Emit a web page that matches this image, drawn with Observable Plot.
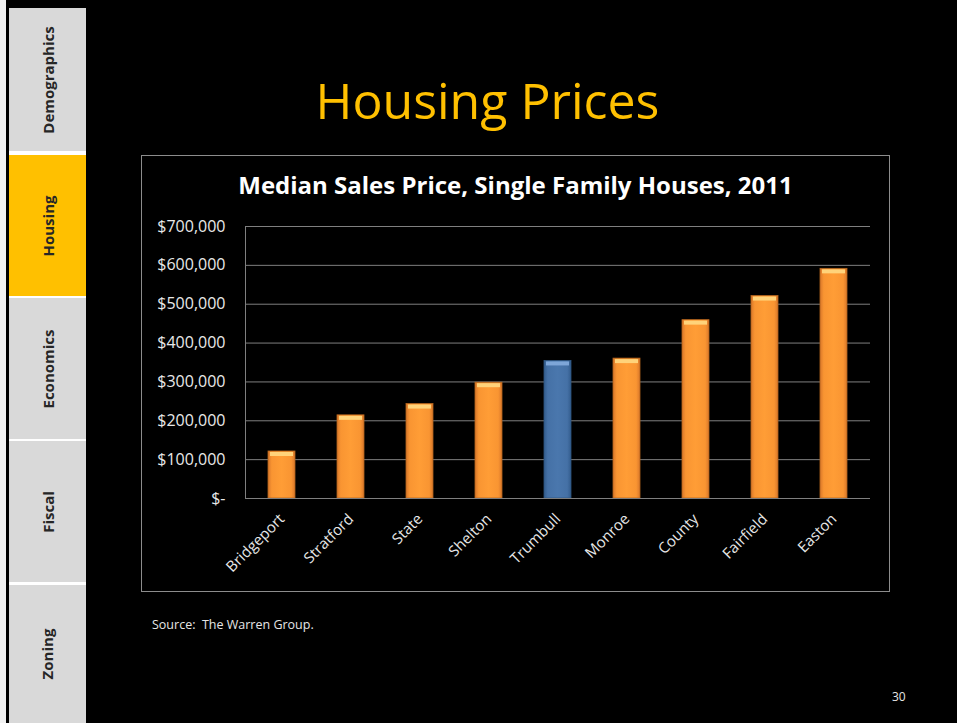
<!DOCTYPE html>
<html><head><meta charset="utf-8">
<script src="https://cdn.jsdelivr.net/npm/d3@7"></script>
<script src="https://cdn.jsdelivr.net/npm/@observablehq/plot@0.6"></script>
<style>
html,body{margin:0;padding:0;background:#000;width:957px;height:723px;overflow:hidden;font-family:"Open Sans",sans-serif}
#page{position:relative;width:957px;height:723px;background:#000}
#leftstrip{position:absolute;left:0;top:0;width:6px;height:723px;background:#f2f2f2}
#tabbg{position:absolute;left:9px;top:8px;width:77px;height:715px;background:#ffffff}
.tab{position:absolute;left:9px;width:77px;background:#d9d9d9;display:flex;align-items:center;justify-content:center}
.tab.active{background:#ffc000}
.tab span{display:block;transform:rotate(-90deg);white-space:nowrap;font-weight:700;font-size:15px;color:#262626}
#title{position:absolute;left:90px;width:795px;top:70px;text-align:center;color:#ffc000;font-size:50px;line-height:60px}
#box{position:absolute;left:141px;top:155px;width:747px;height:435px;border:1px solid #8c8c8c}
#ctitle{position:absolute;left:141px;width:749px;top:169px;text-align:center;color:#fff;font-weight:700;font-size:24px;line-height:32px}
#chart{position:absolute;left:141px;top:206px}
#source{position:absolute;left:152px;top:616px;color:#e6e6e6;font-size:12.5px;white-space:pre}
#pnum{position:absolute;left:892px;top:688px;color:#e6e6e6;font-size:12px}
</style></head>
<body><div id="page">
<div id="leftstrip"></div>
<div id="tabbg"></div>
<div id="tabs"></div>
<div id="title">Housing Prices</div>
<div id="box"></div>
<div id="ctitle">Median Sales Price, Single Family Houses, 2011</div>
<div id="chart"></div>
<div id="source">Source:  The Warren Group.</div>
<div id="pnum">30</div>
</div>
<script>
const towns = ["Bridgeport","Stratford","State","Shelton","Trumbull","Monroe","County","Fairfield","Easton"];
const prices = [121000, 214000, 243000, 298000, 354000, 360000, 459000, 521000, 591000];
const highlight = "Trumbull";
const yTicks = [0,100000,200000,300000,400000,500000,600000,700000];
const tabNames = ["Demographics","Housing","Economics","Fiscal","Zoning"];
const activeTab = "Housing";
const tabTops = [8,155,298,441,585];
const tabBottoms = [151,296,439,582,723];

// sidebar
const tabsEl = document.getElementById("tabs");
tabNames.forEach((t,i)=>{
  const d = document.createElement("div");
  d.className = "tab" + (t===activeTab ? " active" : "");
  d.style.top = tabTops[i]+"px";
  d.style.height = (tabBottoms[i]-tabTops[i])+"px";
  const s = document.createElement("span"); s.textContent = t; d.appendChild(s);
  tabsEl.appendChild(d);
});

const data = towns.map((t,i)=>({town:t, price:prices[i]}));
const fmt = d => d===0 ? "$-" : "$" + d3.format(",")(d);

const chart = Plot.plot({
  width: 749, height: 386,
  marginTop: 20, marginBottom: 94, marginLeft: 104, marginRight: 20,
  style: {background:"transparent", color:"#e8e8e8", fontFamily:"Open Sans"},
  x: {domain: towns, paddingInner: 0.61, paddingOuter: 0.305, label: null, axis: null},
  y: {domain: [0,700000], label: null, axis: null},
  marks: [
    Plot.gridY(yTicks, {stroke:"#7f7f7f", strokeOpacity:1, strokeWidth:1}),
    Plot.frame({anchor:"left", stroke:"#7f7f7f"}),
    Plot.barY(data.filter(d=>d.town!==highlight), {x:"town", y:"price", fill:"url(#gOrange)", stroke:"#b5651d", strokeWidth:0.8}),
    Plot.barY(data.filter(d=>d.town===highlight), {x:"town", y:"price", fill:"url(#gBlue)", stroke:"#2f5581", strokeWidth:0.8}),
    Plot.tickY(data.filter(d=>d.town!==highlight), {x:"town", y:"price", stroke:"#ffd37a", strokeWidth:4, dy:2.5, insetLeft:2, insetRight:2}),
    Plot.tickY(data.filter(d=>d.town===highlight), {x:"town", y:"price", stroke:"#7ea6d8", strokeWidth:4, dy:2.5, insetLeft:2, insetRight:2}),
    Plot.ruleY([0], {stroke:"#7f7f7f"}),
    Plot.axisY({ticks: yTicks, tickFormat: fmt, tickSize: 0, tickPadding: 20, fontSize: 16, label: null, fill:"#e8e8e8"}),
    Plot.axisX({tickRotate: -45, tickSize: 0, tickPadding: 18, fontSize: 15, label: null, fill:"#e8e8e8"})
  ]
});

const defs = d3.select(chart).insert("defs", ":first-child");
const og = defs.append("linearGradient").attr("id","gOrange").attr("x1","0").attr("x2","1").attr("y1","0").attr("y2","0");
[["0%","#d9772a"],["14%","#f99532"],["50%","#ff9d36"],["86%","#f99532"],["100%","#d9772a"]].forEach(([o,c])=>og.append("stop").attr("offset",o).attr("stop-color",c));
const bg = defs.append("linearGradient").attr("id","gBlue").attr("x1","0").attr("x2","1").attr("y1","0").attr("y2","0");
[["0%","#335c8d"],["14%","#4571a6"],["50%","#4a77ad"],["86%","#4571a6"],["100%","#335c8d"]].forEach(([o,c])=>bg.append("stop").attr("offset",o).attr("stop-color",c));

document.getElementById("chart").appendChild(chart);
</script>
</body></html>
